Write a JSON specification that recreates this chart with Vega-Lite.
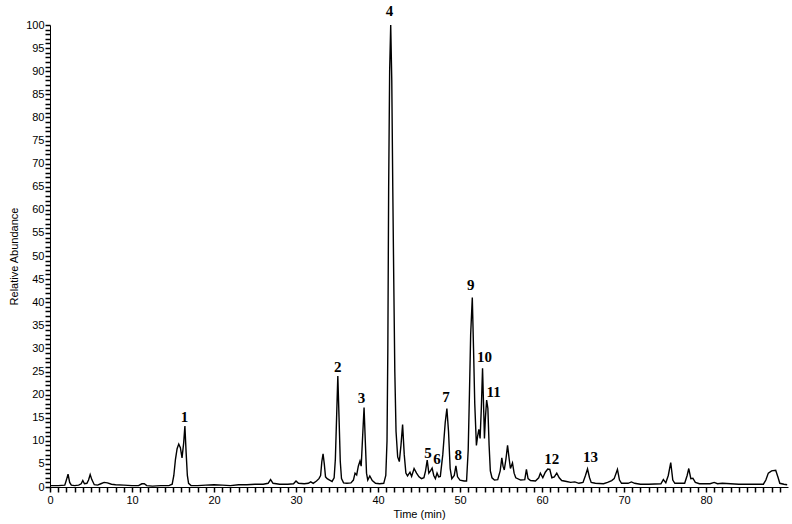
{
  "$schema": "https://vega.github.io/schema/vega-lite/v6.json",
  "autosize": {"type": "none"},
  "padding": {"left": 50, "top": 25, "right": 4, "bottom": 37},
  "width": 738,
  "height": 462,
  "background": "white",
  "config": {
    "view": {"stroke": null},
    "axis": {
      "grid": false,
      "domainColor": "black",
      "labelColor": "black",
      "titleColor": "black",
      "labelFont": "Liberation Sans",
      "titleFont": "Liberation Sans",
      "labelFontSize": 11,
      "titleFontSize": 11,
      "titleFontWeight": "normal",
      "labelOverlap": false,
      "labelFlush": false
    }
  },
  "datasets": {
    "trace": [
      {"t":0,"a":0.3},{"t":1.0,"a":0.3},{"t":1.8,"a":0.4},{"t":2.0,"a":1.5},{"t":2.2,"a":2.8},{"t":2.4,"a":1.0},{"t":2.6,"a":0.4},{"t":3.0,"a":0.3},{"t":3.5,"a":0.4},{"t":3.8,"a":0.7},{"t":4.0,"a":1.4},{"t":4.2,"a":0.7},{"t":4.5,"a":0.8},{"t":4.7,"a":1.5},{"t":4.9,"a":2.7},{"t":5.1,"a":1.6},{"t":5.4,"a":0.5},{"t":5.8,"a":0.4},{"t":6.2,"a":0.7},{"t":6.6,"a":1.0},{"t":7.0,"a":0.9},{"t":7.5,"a":0.6},{"t":8.0,"a":0.5},{"t":9.0,"a":0.4},{"t":10.0,"a":0.3},{"t":10.8,"a":0.3},{"t":11.2,"a":0.7},{"t":11.5,"a":0.7},{"t":11.8,"a":0.3},{"t":12.5,"a":0.2},{"t":13.5,"a":0.3},{"t":14.5,"a":0.3},{"t":14.9,"a":0.6},{"t":15.1,"a":2.5},{"t":15.3,"a":6.0},{"t":15.5,"a":8.3},{"t":15.7,"a":9.3},{"t":15.9,"a":8.5},{"t":16.1,"a":6.3},{"t":16.3,"a":9.5},{"t":16.45,"a":13.2},{"t":16.6,"a":7.5},{"t":16.75,"a":2.5},{"t":16.9,"a":0.8},{"t":17.2,"a":0.3},{"t":18.0,"a":0.3},{"t":19.0,"a":0.4},{"t":20.0,"a":0.5},{"t":21.0,"a":0.4},{"t":22.0,"a":0.3},{"t":23.0,"a":0.5},{"t":24.0,"a":0.5},{"t":25.0,"a":0.6},{"t":26.0,"a":0.6},{"t":26.6,"a":0.8},{"t":26.9,"a":1.6},{"t":27.2,"a":0.8},{"t":28.0,"a":0.6},{"t":29.0,"a":0.6},{"t":29.7,"a":0.7},{"t":30.0,"a":1.3},{"t":30.3,"a":0.8},{"t":31.0,"a":0.7},{"t":31.5,"a":0.8},{"t":31.8,"a":1.1},{"t":32.1,"a":0.8},{"t":32.5,"a":1.3},{"t":32.8,"a":1.8},{"t":33.0,"a":2.5},{"t":33.15,"a":5.5},{"t":33.3,"a":7.2},{"t":33.45,"a":5.0},{"t":33.6,"a":2.2},{"t":33.8,"a":1.8},{"t":34.1,"a":1.5},{"t":34.4,"a":1.2},{"t":34.65,"a":2.0},{"t":34.8,"a":6.0},{"t":34.95,"a":15.0},{"t":35.1,"a":24.0},{"t":35.25,"a":15.0},{"t":35.4,"a":5.5},{"t":35.55,"a":1.8},{"t":35.8,"a":0.9},{"t":36.2,"a":0.8},{"t":36.7,"a":0.9},{"t":37.0,"a":1.5},{"t":37.2,"a":3.0},{"t":37.4,"a":2.6},{"t":37.6,"a":4.5},{"t":37.8,"a":5.6},{"t":37.95,"a":4.5},{"t":38.1,"a":10.0},{"t":38.3,"a":17.2},{"t":38.45,"a":10.0},{"t":38.6,"a":3.0},{"t":38.75,"a":1.5},{"t":39.0,"a":2.4},{"t":39.3,"a":1.4},{"t":39.7,"a":0.8},{"t":40.2,"a":0.7},{"t":40.7,"a":0.8},{"t":40.95,"a":2.5},{"t":41.1,"a":10.0},{"t":41.2,"a":30.0},{"t":41.3,"a":65.0},{"t":41.42,"a":90.0},{"t":41.55,"a":100.0},{"t":41.68,"a":88.0},{"t":41.8,"a":65.0},{"t":41.92,"a":45.0},{"t":42.05,"a":25.0},{"t":42.2,"a":12.0},{"t":42.4,"a":6.5},{"t":42.6,"a":5.5},{"t":42.8,"a":9.0},{"t":43.0,"a":13.5},{"t":43.2,"a":7.0},{"t":43.4,"a":3.0},{"t":43.6,"a":2.4},{"t":43.9,"a":3.2},{"t":44.1,"a":2.3},{"t":44.4,"a":4.0},{"t":44.7,"a":3.0},{"t":45.0,"a":2.2},{"t":45.3,"a":1.8},{"t":45.6,"a":2.0},{"t":45.8,"a":3.5},{"t":46.0,"a":5.8},{"t":46.2,"a":3.0},{"t":46.4,"a":3.5},{"t":46.6,"a":4.1},{"t":46.8,"a":2.5},{"t":47.0,"a":1.8},{"t":47.2,"a":3.0},{"t":47.4,"a":2.2},{"t":47.6,"a":2.3},{"t":47.9,"a":7.0},{"t":48.2,"a":14.0},{"t":48.4,"a":17.0},{"t":48.6,"a":12.0},{"t":48.8,"a":4.0},{"t":49.0,"a":1.8},{"t":49.3,"a":2.5},{"t":49.5,"a":4.6},{"t":49.7,"a":2.2},{"t":50.0,"a":1.5},{"t":50.5,"a":1.3},{"t":50.8,"a":1.3},{"t":51.0,"a":8.0},{"t":51.15,"a":20.0},{"t":51.3,"a":33.0},{"t":51.5,"a":41.0},{"t":51.65,"a":30.0},{"t":51.8,"a":18.0},{"t":52.0,"a":9.0},{"t":52.15,"a":11.0},{"t":52.3,"a":12.5},{"t":52.45,"a":10.5},{"t":52.6,"a":17.0},{"t":52.75,"a":25.7},{"t":52.9,"a":16.0},{"t":52.98,"a":10.5},{"t":53.1,"a":15.0},{"t":53.25,"a":18.8},{"t":53.4,"a":17.0},{"t":53.55,"a":9.0},{"t":53.7,"a":3.5},{"t":53.9,"a":2.0},{"t":54.2,"a":1.5},{"t":54.6,"a":1.6},{"t":54.9,"a":3.5},{"t":55.1,"a":6.3},{"t":55.25,"a":4.5},{"t":55.4,"a":3.7},{"t":55.6,"a":6.0},{"t":55.8,"a":9.0},{"t":56.0,"a":6.0},{"t":56.15,"a":4.0},{"t":56.4,"a":5.2},{"t":56.6,"a":3.0},{"t":56.8,"a":2.0},{"t":57.4,"a":1.5},{"t":57.9,"a":1.6},{"t":58.1,"a":3.8},{"t":58.3,"a":1.8},{"t":58.6,"a":1.4},{"t":59.2,"a":1.3},{"t":59.6,"a":2.0},{"t":59.8,"a":3.0},{"t":60.1,"a":2.0},{"t":60.4,"a":3.2},{"t":60.7,"a":3.9},{"t":60.95,"a":3.8},{"t":61.2,"a":2.0},{"t":61.5,"a":2.2},{"t":61.8,"a":3.0},{"t":62.1,"a":2.0},{"t":62.4,"a":1.4},{"t":63.0,"a":1.2},{"t":63.5,"a":1.0},{"t":64.0,"a":1.1},{"t":64.5,"a":0.8},{"t":65.0,"a":1.0},{"t":65.3,"a":2.5},{"t":65.55,"a":3.9},{"t":65.8,"a":2.0},{"t":66.0,"a":1.0},{"t":66.5,"a":0.8},{"t":67.5,"a":0.7},{"t":68.0,"a":1.0},{"t":68.5,"a":1.4},{"t":68.8,"a":1.8},{"t":69.2,"a":3.8},{"t":69.45,"a":1.5},{"t":69.7,"a":0.8},{"t":70.5,"a":0.8},{"t":70.9,"a":1.1},{"t":71.3,"a":0.8},{"t":72.0,"a":0.6},{"t":73.0,"a":0.6},{"t":74.5,"a":0.7},{"t":74.8,"a":1.6},{"t":75.1,"a":0.9},{"t":75.4,"a":2.5},{"t":75.7,"a":5.3},{"t":75.95,"a":1.5},{"t":76.2,"a":0.8},{"t":77.4,"a":0.8},{"t":77.7,"a":2.5},{"t":77.9,"a":4.0},{"t":78.15,"a":1.8},{"t":78.4,"a":1.9},{"t":78.7,"a":1.0},{"t":79.2,"a":0.7},{"t":80.5,"a":0.7},{"t":81.0,"a":1.0},{"t":81.4,"a":0.7},{"t":82.0,"a":0.8},{"t":84.0,"a":0.6},{"t":86.0,"a":0.6},{"t":87.0,"a":0.6},{"t":87.3,"a":1.5},{"t":87.6,"a":3.0},{"t":88.0,"a":3.5},{"t":88.5,"a":3.6},{"t":88.8,"a":2.0},{"t":89.0,"a":0.8},{"t":89.5,"a":0.6},{"t":89.9,"a":0.5}
    ],
    "labels": [
      {"t":16.4,"a":15.2,"label":"1"},
      {"t":35.1,"a":25.9,"label":"2"},
      {"t":38.0,"a":19.2,"label":"3"},
      {"t":41.4,"a":103.0,"label":"4"},
      {"t":46.1,"a":7.4,"label":"5"},
      {"t":47.2,"a":6.0,"label":"6"},
      {"t":48.3,"a":19.5,"label":"7"},
      {"t":49.8,"a":6.9,"label":"8"},
      {"t":51.3,"a":43.7,"label":"9"},
      {"t":53.0,"a":28.1,"label":"10"},
      {"t":54.1,"a":20.6,"label":"11"},
      {"t":61.2,"a":6.1,"label":"12"},
      {"t":65.9,"a":6.4,"label":"13"}
    ]
  },
  "encoding": {
    "x": {
      "field": "t", "type": "quantitative",
      "scale": {"domain": [0, 90], "nice": false, "zero": false},
      "axis": {
        "title": "Time (min)",
        "titlePadding": 3,
        "labelPadding": 2,
        "ticks": true,
        "tickSize": 5,
        "tickWidth": 1.5,
        "tickColor": "black",
        "values": [0,1,2,3,4,5,6,7,8,9,10,11,12,13,14,15,16,17,18,19,20,21,22,23,24,25,26,27,28,29,30,31,32,33,34,35,36,37,38,39,40,41,42,43,44,45,46,47,48,49,50,51,52,53,54,55,56,57,58,59,60,61,62,63,64,65,66,67,68,69,70,71,72,73,74,75,76,77,78,79,80,81,82,83,84,85,86,87,88,89],
        "labelExpr": "datum.value % 10 === 0 ? datum.label : ''"
      }
    },
    "y": {
      "field": "a", "type": "quantitative",
      "scale": {"domain": [0, 100], "nice": false},
      "axis": {
        "title": "Relative Abundance",
        "titlePadding": 6,
        "labelPadding": 1,
        "ticks": true,
        "tickSize": 5,
        "tickWidth": 1.5,
        "tickColor": "black",
        "values": [0,1,2,3,4,5,6,7,8,9,10,11,12,13,14,15,16,17,18,19,20,21,22,23,24,25,26,27,28,29,30,31,32,33,34,35,36,37,38,39,40,41,42,43,44,45,46,47,48,49,50,51,52,53,54,55,56,57,58,59,60,61,62,63,64,65,66,67,68,69,70,71,72,73,74,75,76,77,78,79,80,81,82,83,84,85,86,87,88,89,90,91,92,93,94,95,96,97,98,99,100],
        "labelExpr": "datum.value % 5 === 0 ? datum.label : ''"
      }
    }
  },
  "layer": [
    {
      "data": {"name": "trace"},
      "mark": {"type": "line", "color": "black", "strokeWidth": 1.4, "interpolate": "linear", "clip": false}
    },
    {
      "data": {"name": "labels"},
      "mark": {"type": "text", "font": "Liberation Serif", "fontWeight": "bold", "fontSize": 15, "color": "black", "align": "center", "baseline": "middle", "clip": false},
      "encoding": {
        "text": {"field": "label", "type": "nominal"}
      }
    }
  ]
}
